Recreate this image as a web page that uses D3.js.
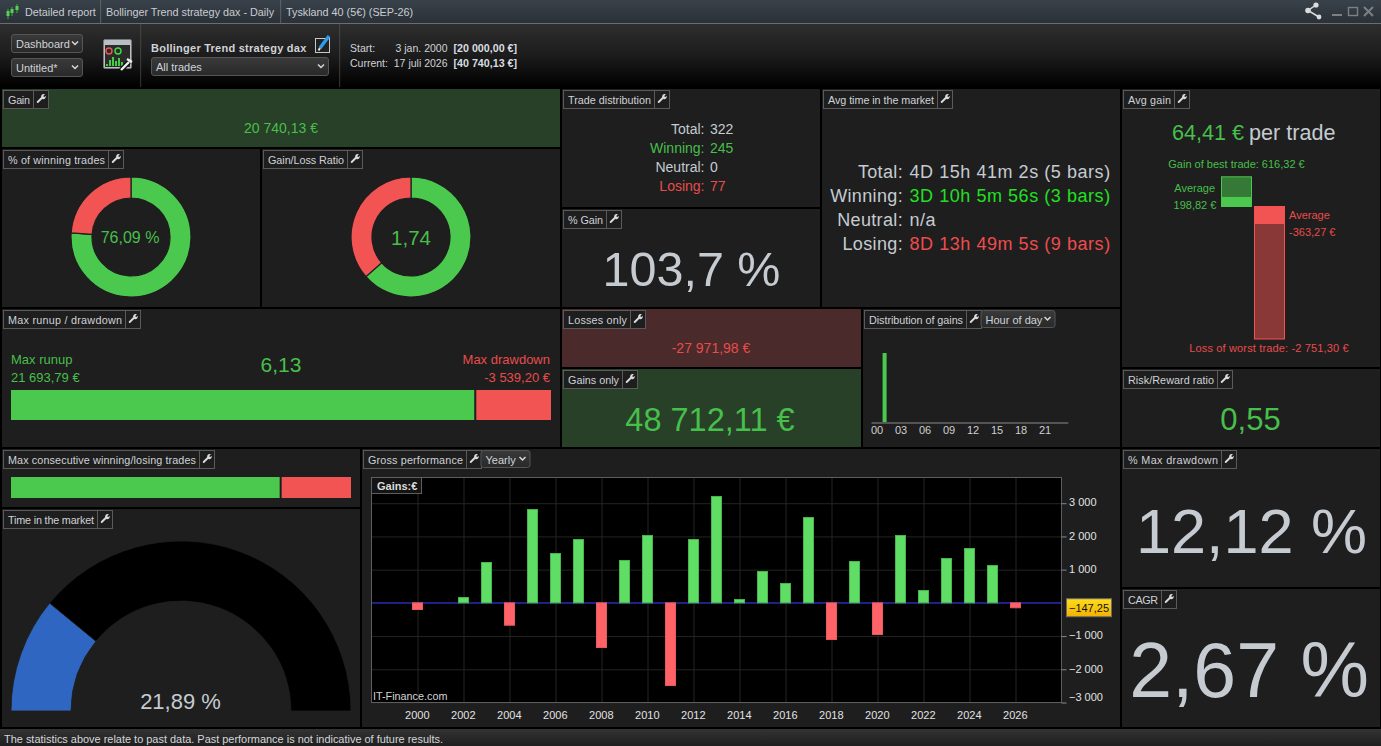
<!DOCTYPE html>
<html>
<head>
<meta charset="utf-8">
<title>Detailed report</title>
<script src="https://cdn.jsdelivr.net/npm/d3@7"></script>
<style>
  html, body { margin: 0; padding: 0; background: #000; overflow: hidden; }
  svg { display: block; font-family: "Liberation Sans", Arial, sans-serif; }
  .axis path.domain { display: none; }
  .grid line { stroke: #242424; }
  .grid text { display: none; }
  .axis text { fill: #e2e2e2; font-size: 11px; font-family: "Liberation Sans", Arial, sans-serif; }
</style>
</head>
<body>
<div id="chart"></div>
<script>
// yearly gross performance
const years = [2000, 2002, 2003, 2004, 2005, 2006, 2007, 2008, 2009, 2010, 2011, 2012, 2013,
  2014, 2015, 2016, 2017, 2018, 2019, 2020, 2021, 2022, 2023, 2024, 2025, 2026];
const yearGains = [-200, 160, 1215, -673, 2810, 1486, 1907, -1345, 1275, 2028, -2490, 1907, 3203,
  100, 944, 582, 2570, -1104, 1245, -954, 2028, 371, 1335, 1636, 1124, -147.25];
const yearTicks = [2000, 2002, 2004, 2006, 2008, 2010, 2012, 2014, 2016, 2018, 2020, 2022, 2024, 2026];
const gainTicks = [-3000, -2000, -1000, 1000, 2000, 3000];
const gridTicks = [-3000, -2000, -1000, 0, 1000, 2000, 3000];

// distribution of gains by hour
const hourLabels = ['00', '03', '06', '09', '12', '15', '18', '21'];
const hourTicks = [0, 3, 6, 9, 12, 15, 18, 21];
const gainHours = [1];
const gainByHour = [20740.13];

// donuts, gauge and split bars
const winLoseShare = [76.09, 23.91];
const gainsLosses = [48712.11, 27971.98];
const runupDrawdown = [21693.79, 3539.20];
const consecutive = [23, 6];
const timeInMarket = [21.89, 78.11];

// avg gain panel: best, average win, average loss, worst
const winTrade = [616.32, 198.82];
const loseTrade = [2751.30, 363.27];

const tradeLabels = ['Total:', 'Winning:', 'Neutral:', 'Losing:'];
const tradeCounts = ['322', '245', '0', '77'];
const avgTimes = ['4D 15h 41m 2s (5 bars)', '3D 10h 5m 56s (3 bars)', 'n/a', '8D 13h 49m 5s (9 bars)'];

const GREEN = '#4ac94e', RED = '#f25353', TXT_GREEN = '#47bf4b', TXT_RED = '#e84c4c', GREY = '#c5cbd1';
const PANEL = '#1e1e1e';

// caption widths, the original hints its small text wider or narrower per label
const captionWidth = {
  'Gain': 22, 'Trade distribution': 83, 'Avg time in the market': 106, 'Avg gain': 43,
  '% of winning trades': 97, 'Gain/Loss Ratio': 76, '% Gain': 35, 'Max runup / drawdown': 114,
  'Losses only': 59, 'Gains only': 51, 'Distribution of gains': 94, 'Risk/Reward ratio': 86,
  'Max consecutive winning/losing trades': 188, 'Gross performance': 95, '% Max drawdown': 90,
  'Time in the market': 86, 'CAGR': 30
};

const locale = d3.formatLocale({ decimal: ',', thousands: '\u00a0', grouping: [3], currency: ['', ' €'], minus: '-' });
const tickLocale = d3.formatLocale({ decimal: ',', thousands: '\u00a0', grouping: [3], currency: ['', ''], minus: '\u2212' });
const euro = v => locale.format(',.2f')(v) + ' €';

const svg = d3.select('#chart').append('svg').attr('width', 1381).attr('height', 746);
const defs = svg.append('defs');

function gradient(id, stops) {
  const g = defs.append('linearGradient').attr('id', id).attr('x1', 0).attr('x2', 0).attr('y1', 0).attr('y2', 1);
  stops.forEach((c, i) => g.append('stop').attr('offset', i / (stops.length - 1)).attr('stop-color', c));
}
gradient('titleBar', ['#39414a', '#2a3138']);
gradient('toolBar', ['#2e2e2e', '#1c1c1c', '#000000']);
gradient('select', ['#3a3a3a', '#292929']);
gradient('marker', ['#ffdc1e', '#f2b200']);
gradient('footer', ['#333333', '#1f1f1f']);

function rect(g, x, y, w, h, fill, stroke) {
  return g.append('rect').attr('x', x).attr('y', y).attr('width', w).attr('height', h)
    .attr('fill', fill).attr('stroke', stroke || 'none');
}

function text(g, x, y, str, size, fill, anchor, weight) {
  return g.append('text').attr('x', x).attr('y', y).text(str)
    .style('font-size', size + 'px').attr('fill', fill)
    .attr('text-anchor', anchor || 'start').attr('font-weight', weight || 'normal');
}

function wrench(g, x, y) {
  const w = g.append('g').attr('transform', `translate(${x},${y}) scale(0.85)`);
  w.append('line').attr('x1', 2).attr('y1', 10).attr('x2', 7).attr('y2', 5)
    .attr('stroke', '#dcdcdc').attr('stroke-width', 2.2).attr('stroke-linecap', 'round');
  w.append('path').attr('d', 'M6 3.5 A3 3 0 0 1 10.5 1 L8.5 3 L9.6 4.4 L11.3 2.6 A3 3 0 0 1 7.5 6.5 Z').attr('fill', '#dcdcdc');
}

function chevron(g, x, y) {
  g.append('path').attr('d', `M${x} ${y} l3 3 l3 -3`).attr('fill', 'none')
    .attr('stroke', '#d8d8d8').attr('stroke-width', 1.5);
}

function dropdown(g, x, y, w, h, label) {
  rect(g, x + 0.5, y + 0.5, w - 1, h - 1, 'url(#select)', '#555').attr('rx', 2.5);
  text(g, x + 5, y + h / 2 + 4.5, label, 11, '#cfd3d8');
  chevron(g, x + w - 11, y + h / 2 - 2);
}

// panel with its caption tab, returns the right edge of the tab
function panel(x, y, w, h, label, fill) {
  const g = svg.append('g');
  rect(g, x, y, w, h, fill || PANEL);
  const tw = captionWidth[label];
  text(g, x + 6, y + 15, label, 10.8, '#ced2d7')
    .attr('textLength', tw).attr('lengthAdjust', 'spacing');
  const x0 = x + 1.5, y0 = y + 1.5, sep = x0 + tw + 8;
  g.insert('rect', 'text').attr('x', x0).attr('y', y0).attr('width', tw + 23).attr('height', 18)
    .attr('fill', PANEL).attr('stroke', '#5a5a5a');
  g.append('line').attr('x1', sep).attr('x2', sep).attr('y1', y0).attr('y2', y0 + 18).attr('stroke', '#5a5a5a');
  wrench(g, sep + 2.5, y0 + 3);
  return { g, right: x0 + tw + 23 };
}

function donut(g, cx, cy, values) {
  const pie = d3.pie().sort(null)(values);
  const arc = d3.arc().innerRadius(39).outerRadius(60);
  g.append('g').attr('transform', `translate(${cx},${cy})`).selectAll('path')
    .data(pie).join('path').attr('d', arc)
    .attr('fill', (d, i) => (i === 0 ? GREEN : RED))
    .attr('stroke', PANEL).attr('stroke-width', 1.2);
}

function splitBar(g, x0, x1, y0, h, values) {
  const total = d3.sum(values);
  const scale = d3.scaleLinear().domain([0, total]).range([x0, x1]);
  rect(g, x0, y0, scale(values[0]) - x0 - 1, h, GREEN);
  rect(g, scale(values[0]) + 1, y0, x1 - scale(values[0]) - 1, h, RED);
}

// ---- window chrome
function drawChrome() {
  const g = svg.append('g');
  rect(g, 0, 0, 1381, 23, 'url(#titleBar)');
  rect(g, 0, 23, 1381, 1, '#6a6e72');
  rect(g, 0, 24, 1381, 63, 'url(#toolBar)');
  [100.5, 280.5].forEach(x => rect(g, x, 0, 0.6, 23, '#7a7e82'));
  [140.5, 339.5].forEach(x => rect(g, x, 24, 0.6, 63, '#5a5a5a'));
  text(g, 25, 16, 'Detailed report', 10.8, '#c9cdd2');
  text(g, 106, 16, 'Bollinger Trend strategy dax - Daily', 10.8, '#c9cdd2');
  text(g, 286, 16, 'Tyskland 40 (5€) (SEP-26)', 10.8, '#c9cdd2');

  // candle icon
  [[8, 9, 19], [12, 7, 16], [17, 4, 13]].forEach(([x, a, b]) => {
    g.append('line').attr('x1', x).attr('x2', x).attr('y1', a).attr('y2', b).attr('stroke', '#3fae3f');
    rect(g, x - 1.5, a + 2, 3, b - a - 5, '#55d055');
  });

  // share icon and window buttons
  g.append('path').attr('d', 'M1316 5 L1308 10.5 L1319 17').attr('fill', 'none').attr('stroke', '#dcdcdc').attr('stroke-width', 1.5);
  [[1316, 5, 2.6], [1308, 10.5, 2.8], [1319, 17, 2.4]].forEach(([x, y, r]) =>
    g.append('circle').attr('cx', x).attr('cy', y).attr('r', r).attr('fill', '#dcdcdc'));
  rect(g, 1332, 14, 10, 2, '#7c8085');
  rect(g, 1348.5, 7.5, 9, 8, 'none', '#7c8085').attr('stroke-width', 1.4);
  g.append('path').attr('d', 'M1364 7 L1373 16 M1373 7 L1364 16').attr('stroke', '#7c8085').attr('stroke-width', 2);

  dropdown(g, 11, 34, 72, 19, 'Dashboard');
  dropdown(g, 11, 58, 72, 19, 'Untitled*');
  dropdown(g, 151, 57, 178, 19, 'All trades');

  // dashboard icon
  rect(g, 103.5, 39.5, 28, 29, '#b9bfc6', '#777').attr('rx', 1.5);
  rect(g, 105, 45, 25, 22, '#2b2b2b');
  g.append('circle').attr('cx', 109).attr('cy', 51).attr('r', 3).attr('fill', 'none').attr('stroke', '#e55').attr('stroke-width', 1.4);
  g.append('circle').attr('cx', 118).attr('cy', 51).attr('r', 3).attr('fill', 'none').attr('stroke', '#4d4').attr('stroke-width', 1.4);
  [2, 6, 9, 5, 8, 4].forEach((h, i) => rect(g, 106 + i * 3, 66 - h, 2, h, '#44cc44'));
  g.append('path').attr('d', 'M121 70 L129 62').attr('stroke', '#111').attr('stroke-width', 5);
  g.append('path').attr('d', 'M121 70 L129 62 M127 59 L132 62').attr('stroke', '#eee').attr('stroke-width', 2.4);

  text(g, 151, 52, 'Bollinger Trend strategy dax', 11, '#cfd3d8', 'start', 'bold').style('letter-spacing', '0.25px');

  // edit icon
  rect(g, 315.5, 38.5, 14, 14, '#222', '#c8c8c8');
  g.append('path').attr('d', 'M320 48 L329 36').attr('stroke', '#2c9cf0').attr('stroke-width', 3.5);
  g.append('path').attr('d', 'M320 48 L318.5 50.5').attr('stroke', '#ddd').attr('stroke-width', 2);

  text(g, 350, 52, 'Start:', 10.5, '#cfd3d8');
  text(g, 350, 67, 'Current:', 10.5, '#cfd3d8');
  text(g, 447.5, 52, '3 jan. 2000', 10.5, '#cfd3d8', 'end');
  text(g, 447.5, 67, '17 juli 2026', 10.5, '#cfd3d8', 'end');
  text(g, 453.5, 52, '[20 000,00 €]', 10.7, '#d8dce0', 'start', 'bold');
  text(g, 453.5, 67, '[40 740,13 €]', 10.7, '#d8dce0', 'start', 'bold');

  rect(g, 0, 729, 1381, 17, 'url(#footer)');
  text(g, 4, 743, 'The statistics above relate to past data. Past performance is not indicative of future results.', 10.95, '#d5d8dc');
}

// ---- top left block
function drawGain() {
  const p = panel(2, 89, 558, 58, 'Gain', '#283f28');
  text(p.g, 281, 133, euro(20740.13), 14, TXT_GREEN, 'middle');
}

function drawDonuts() {
  let p = panel(2, 149, 258, 158, '% of winning trades');
  donut(p.g, 131, 237, winLoseShare);
  text(p.g, 130, 243, locale.format('.2f')(winLoseShare[0]) + ' %', 16, TXT_GREEN, 'middle');

  p = panel(262, 149, 298, 158, 'Gain/Loss Ratio');
  donut(p.g, 411, 237, gainsLosses);
  text(p.g, 411, 245, locale.format('.2f')(gainsLosses[0] / gainsLosses[1]), 20.5, TXT_GREEN, 'middle');
}

function drawRunup() {
  const p = panel(2, 309, 558, 138, 'Max runup / drawdown');
  text(p.g, 11, 364, 'Max runup', 13, TXT_GREEN);
  text(p.g, 11, 382, euro(runupDrawdown[0]), 13, TXT_GREEN);
  text(p.g, 550, 364, 'Max drawdown', 13, TXT_RED, 'end');
  text(p.g, 550, 382, euro(-runupDrawdown[1]), 13, TXT_RED, 'end');
  text(p.g, 281, 372, locale.format('.2f')(runupDrawdown[0] / runupDrawdown[1]), 21, TXT_GREEN, 'middle');
  splitBar(p.g, 11, 551, 390, 30, runupDrawdown);
}

function drawConsecutive() {
  const p = panel(2, 449, 358, 58, 'Max consecutive winning/losing trades');
  splitBar(p.g, 11, 351, 477, 21, consecutive);
}

function drawGauge() {
  const p = panel(2, 509, 358, 218, 'Time in the market');
  const pie = d3.pie().sort(null).startAngle(-Math.PI / 2).endAngle(Math.PI / 2)(timeInMarket);
  const arc = d3.arc().innerRadius(110).outerRadius(170);
  p.g.append('g').attr('transform', 'translate(181,711)').selectAll('path')
    .data(pie).join('path').attr('d', arc)
    .attr('fill', (d, i) => (i === 0 ? '#2f66c2' : '#000'))
    .attr('stroke', PANEL).attr('stroke-width', 0.8);
  text(p.g, 180.5, 709, locale.format('.2f')(timeInMarket[0]) + ' %', 22, GREY, 'middle');
}

// ---- middle block
function drawTrades() {
  let p = panel(562, 89, 258, 118, 'Trade distribution');
  const colors = [GREY, TXT_GREEN, GREY, TXT_RED];
  tradeLabels.forEach((l, i) => {
    text(p.g, 704.5, 134 + i * 19, l, 14, colors[i], 'end');
    text(p.g, 710, 134 + i * 19, tradeCounts[i], 14, colors[i]);
  });

  p = panel(562, 209, 258, 98, '% Gain');
  text(p.g, 691.5, 286, '103,7 %', 48.5, GREY, 'middle');

  p = panel(822, 89, 298, 218, 'Avg time in the market');
  const timeColors = [GREY, '#22e022', GREY, '#ee4c4c'];
  tradeLabels.forEach((l, i) => {
    text(p.g, 903, 178 + i * 24, l, 18, GREY, 'end').style('letter-spacing', '0.35px');
    text(p.g, 909.5, 178 + i * 24, avgTimes[i], 18, timeColors[i]).style('letter-spacing', '0.55px');
  });
}

function drawTotals() {
  let p = panel(562, 309, 299, 58, 'Losses only', '#4a2a2a');
  text(p.g, 711, 353, euro(-gainsLosses[1]), 14, '#e84c4c', 'middle');
  p = panel(562, 369, 299, 78, 'Gains only', '#283f28');
  text(p.g, 710, 431, euro(gainsLosses[0]), 32.5, TXT_GREEN, 'middle');
}

function drawHours() {
  const p = panel(863, 309, 257, 138, 'Distribution of gains');
  dropdown(p.g, p.right - 1, 310, 75, 18, 'Hour of day');

  const x = d3.scaleLinear().domain([-0.7, 23.9]).range([871, 1067.8]);
  const y = d3.scaleLinear().domain([0, d3.max(gainByHour)]).range([422, 353]);

  p.g.selectAll('.hour-bar').data(gainHours).join('rect').attr('class', 'hour-bar')
    .attr('x', d => x(d) - 2).attr('width', 4)
    .attr('y', (d, i) => y(gainByHour[i])).attr('height', (d, i) => y(0) - y(gainByHour[i]))
    .attr('fill', GREEN);

  const axis = p.g.append('g').attr('transform', 'translate(0,422.5)');
  axis.call(d3.axisBottom(x).tickValues(hourTicks).tickSize(0).tickPadding(4)
    .tickFormat((d, i) => hourLabels[i]));
  axis.select('.domain').attr('stroke', '#8a8a8a');
  axis.selectAll('text').attr('fill', '#d0d0d0').style('font-size', '11px')
    .style('font-family', '"Liberation Sans", Arial, sans-serif');
}

// ---- gross performance
function drawGross() {
  const p = panel(362, 449, 758, 278, 'Gross performance');
  dropdown(p.g, p.right - 1, 450, 50, 18, 'Yearly');

  const x = d3.scaleLinear().domain([1998, 2028]).range([371.5, 1061.5]);
  const y = d3.scaleLinear().domain([-3000, 3774]).range([702.5, 477.5]);
  const barW = 10;

  rect(p.g, 371.5, 477.5, 690, 225, '#000');

  p.g.append('g').attr('class', 'grid').attr('transform', 'translate(1061.5,0)')
    .call(d3.axisLeft(y).tickValues(gridTicks).tickSize(690));
  p.g.append('g').attr('class', 'grid').attr('transform', 'translate(0,702.5)')
    .call(d3.axisTop(x).tickValues(yearTicks).tickSize(225));
  p.g.selectAll('.grid .domain').remove();

  p.g.append('line').attr('x1', 371.5).attr('x2', 1061.5).attr('y1', y(0)).attr('y2', y(0))
    .attr('stroke', '#2c2cff').attr('stroke-width', 1);

  p.g.selectAll('.bar').data(years).join('rect').attr('class', 'bar')
    .attr('x', d => x(d) - barW / 2).attr('width', barW)
    .attr('y', (d, i) => y(Math.max(0, yearGains[i])))
    .attr('height', (d, i) => Math.abs(y(yearGains[i]) - y(0)))
    .attr('fill', (d, i) => (yearGains[i] >= 0 ? '#5fdd65' : '#ff6367'))
    .attr('stroke', (d, i) => (yearGains[i] >= 0 ? '#47b64c' : '#e85a5e'));

  rect(p.g, 371.5, 477.5, 690, 225, 'none', '#5e5e5e');

  const xAxis = p.g.append('g').attr('class', 'axis').attr('transform', 'translate(0,702.5)')
    .call(d3.axisBottom(x).tickValues(yearTicks).tickFormat(d3.format('d')).tickSize(0).tickPadding(9));
  xAxis.selectAll('text').attr('dy', '0.71em').attr('dx', -0.7);

  const yAxis = p.g.append('g').attr('class', 'axis').attr('transform', 'translate(1061.5,0)')
    .call(d3.axisRight(y).tickValues(gainTicks).tickSize(5).tickPadding(2.5)
      .tickFormat(tickLocale.format(',d')));
  yAxis.selectAll('line').attr('stroke', '#8a8a8a');
  yAxis.selectAll('text').attr('y', -0.8);
  // lowest label is pushed up so it stays inside the plot height
  yAxis.selectAll('text').filter(d => d === -3000).attr('y', -5.5);

  // last value marker
  const last = yearGains[yearGains.length - 1];
  rect(p.g, 1066.5, y(last) - 9, 45, 18, 'url(#marker)', '#6c6c6c');
  text(p.g, 1089, y(last) + 4, tickLocale.format('.2f')(last), 11, '#111', 'middle');

  // corner captions
  rect(p.g, 371.5, 477.5, 50, 16, '#141414', '#5e5e5e');
  text(p.g, 377, 489.5, 'Gains:€', 11, '#dcdcdc', 'start', 'bold');
  text(p.g, 373, 700, 'IT-Finance.com', 10.8, '#d4d4d4');
}

// ---- right column
function drawAvgGain() {
  const p = panel(1122, 89, 258, 278, 'Avg gain');
  const h = d3.scaleLinear().domain([0, loseTrade[0]]).range([0, 132.5]);
  const base = 206.5;

  const head = text(p.g, 1172, 140, euro(64.41), 21.6, TXT_GREEN);
  head.append('tspan').attr('fill', GREY).attr('dx', 5).text('per trade');

  text(p.g, 1236.5, 168, 'Gain of best trade: ' + euro(winTrade[0]), 11, TXT_GREEN, 'middle');
  text(p.g, 1194.7, 192, 'Average', 11, TXT_GREEN, 'middle');
  text(p.g, 1195, 209, euro(winTrade[1]), 11, TXT_GREEN, 'middle');
  text(p.g, 1289, 219, 'Average', 11, TXT_RED);
  text(p.g, 1289, 236, euro(-loseTrade[1]), 11, TXT_RED);
  text(p.g, 1269, 352, 'Loss of worst trade: ' + euro(-loseTrade[0]), 11, TXT_RED, 'middle').style('letter-spacing', '0.15px');

  rect(p.g, 1221.5, base - h(winTrade[0]), 30, h(winTrade[0]), '#367836', GREEN);
  rect(p.g, 1221.5, base - h(winTrade[1]), 30, h(winTrade[1]), GREEN);
  rect(p.g, 1254.5, base, 30, h(loseTrade[0]), '#8a3737', RED);
  rect(p.g, 1254.5, base, 30, h(loseTrade[1]), RED);

  const rr = panel(1122, 369, 258, 78, 'Risk/Reward ratio');
  text(rr.g, 1250.5, 430, '0,55', 31, TXT_GREEN, 'middle');

  const dd = panel(1122, 449, 258, 138, '% Max drawdown');
  text(dd.g, 1251.5, 552.5, '12,12 %', 63, GREY, 'middle');

  const cagr = panel(1122, 589, 258, 138, 'CAGR');
  text(cagr.g, 1249, 697, '2,67 %', 77, GREY, 'middle');
}

drawChrome();
drawGain();
drawDonuts();
drawRunup();
drawConsecutive();
drawGauge();
drawTrades();
drawTotals();
drawHours();
drawGross();
drawAvgGain();
</script>
</body>
</html>
